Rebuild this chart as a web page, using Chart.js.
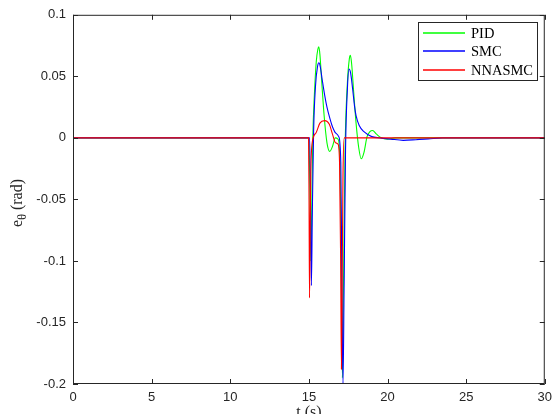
<!DOCTYPE html>
<html>
<head>
<meta charset="utf-8">
<script src="https://cdn.jsdelivr.net/npm/chart.js@4.4.1/dist/chart.umd.min.js"></script>
<style>
  html, body { margin: 0; padding: 0; background: #fff; }
  #wrap { width: 558px; height: 414px; position: relative; }
</style>
</head>
<body>
<div id="wrap"><canvas id="c"></canvas></div>
<script>
// time (s) and error e_theta (rad)
const pidT = [0, 15.0, 15.06, 15.12, 15.18, 15.25, 15.35, 15.47, 15.57, 15.63, 15.7, 15.82, 15.97, 16.15, 16.33, 16.5, 16.68, 16.85, 16.98, 17.06, 17.13, 17.2, 17.3, 17.45, 17.57, 17.64, 17.72, 17.85, 18.0, 18.17, 18.33, 18.5, 18.7, 18.88, 19.05, 19.3, 19.6, 20.0, 20.5, 21.0, 30];
const pidE = [0, 0, -0.04, -0.1, -0.06, 0.0, 0.035, 0.062, 0.072, 0.074, 0.068, 0.045, 0.018, -0.004, -0.011, -0.007, 0.0, -0.001, -0.02, -0.1, -0.195, -0.12, -0.01, 0.045, 0.064, 0.067, 0.06, 0.037, 0.012, -0.008, -0.017, -0.012, 0.001, 0.005, 0.006, 0.003, 0.0, -0.001, 0.0, 0.0, 0];

const smcT = [0, 15.05, 15.11, 15.16, 15.22, 15.3, 15.42, 15.55, 15.64, 15.72, 15.85, 16.0, 16.15, 16.33, 16.5, 16.7, 16.9, 17.03, 17.1, 17.17, 17.24, 17.33, 17.45, 17.55, 17.65, 17.78, 17.9, 18.0, 18.2, 18.5, 19.0, 19.5, 20.2, 21.0, 21.8, 22.6, 23.5, 30];
const smcE = [0, 0, -0.06, -0.12, -0.06, 0.005, 0.042, 0.058, 0.061, 0.058, 0.047, 0.035, 0.025, 0.016, 0.009, 0.004, 0.001, -0.02, -0.12, -0.2, -0.12, -0.01, 0.04, 0.056, 0.053, 0.04, 0.026, 0.018, 0.01, 0.005, 0.001, 0.0, -0.001, -0.002, -0.0015, -0.0008, 0, 0];

const nnT = [0, 14.98, 15.01, 15.04, 15.07, 15.12, 15.2, 15.45, 15.7, 16.0, 16.3, 16.5, 16.7, 16.85, 16.95, 17.02, 17.07, 17.12, 17.17, 17.25, 17.4, 30];
const nnE = [0, 0, -0.05, -0.13, -0.09, -0.03, -0.005, 0.004, 0.012, 0.014, 0.011, 0.003, -0.004, -0.005, -0.02, -0.1, -0.188, -0.11, -0.03, 0, 0, 0];

const seriesNames = ['PID', 'SMC', 'NNASMC'];
const seriesColors = ['#00ff00', '#0000ff', '#ff0000'];
const xTicks = [0, 5, 10, 15, 20, 25, 30];
const yTicks = [0.1, 0.05, 0, -0.05, -0.1, -0.15, -0.2];

const toPoints = (t, e) => t.map((v, i) => ({ x: v, y: e[i] }));

const axisColor = '#262626';

// matlab style box, inward ticks, legend and axis titles
const framePlugin = {
    id: 'frame',
    afterDraw(chart) {
        const { ctx, chartArea: a, scales } = chart;
        const x = scales.x, y = scales.y;
        ctx.save();
        ctx.strokeStyle = axisColor;
        ctx.lineWidth = 1;
        ctx.strokeRect(a.left + 0.5, a.top + 0.5, a.right - a.left - 1, a.bottom - a.top - 1);
        ctx.beginPath();
        xTicks.forEach(v => {
            const px = Math.round(x.getPixelForValue(v)) + 0.5;
            ctx.moveTo(px, a.bottom); ctx.lineTo(px, a.bottom - 5);
            ctx.moveTo(px, a.top); ctx.lineTo(px, a.top + 5);
        });
        yTicks.forEach(v => {
            const py = Math.round(y.getPixelForValue(v)) + 0.5;
            ctx.moveTo(a.left, py); ctx.lineTo(a.left + 5, py);
            ctx.moveTo(a.right, py); ctx.lineTo(a.right - 5, py);
        });
        ctx.stroke();

        // legend box
        const lx = 418, ly = 22, lw = 119, lh = 58;
        ctx.fillStyle = '#fff';
        ctx.fillRect(lx, ly, lw, lh);
        ctx.strokeStyle = axisColor;
        ctx.strokeRect(lx + 0.5, ly + 0.5, lw, lh);
        ctx.font = '14.5px "Liberation Serif", "Times New Roman", serif';
        ctx.textBaseline = 'middle';
        ctx.textAlign = 'left';
        ctx.lineWidth = 1.6;
        seriesNames.forEach((name, i) => {
            const yy = Math.round(33 + i * 18.3);
            ctx.strokeStyle = seriesColors[i];
            ctx.beginPath();
            ctx.moveTo(423, yy); ctx.lineTo(465, yy);
            ctx.stroke();
            ctx.fillStyle = '#000';
            ctx.fillText(name, 471, yy + 1);
        });

        // y axis title: e_theta (rad)
        ctx.fillStyle = axisColor;
        ctx.save();
        ctx.translate(22, 203);
        ctx.rotate(-Math.PI / 2);
        const big = '16px "Liberation Serif", "Times New Roman", serif';
        const small = '12px "Liberation Serif", "Times New Roman", serif';
        ctx.font = big;
        const wE = ctx.measureText('e').width;
        const wR = ctx.measureText(' (rad)').width;
        ctx.font = small;
        const wT = ctx.measureText('\u03b8').width;
        let sx = -(wE + wT + wR) / 2;
        ctx.textBaseline = 'alphabetic';
        ctx.font = big;
        ctx.fillText('e', sx, 0);
        ctx.font = small;
        ctx.fillText('\u03b8', sx + wE, 4);
        ctx.font = big;
        ctx.fillText(' (rad)', sx + wE + wT, 0);
        ctx.restore();

        // x axis title
        ctx.font = '16px "Liberation Serif", "Times New Roman", serif';
        ctx.textAlign = 'center';
        ctx.textBaseline = 'top';
        ctx.fillText('t (s)', (a.left + a.right) / 2, 405);
        ctx.restore();
    }
};

new Chart(document.getElementById('c'), {
    type: 'line',
    data: {
        datasets: [
            { label: seriesNames[0], data: toPoints(pidT, pidE), borderColor: seriesColors[0], order: 2 },
            { label: seriesNames[1], data: toPoints(smcT, smcE), borderColor: seriesColors[1], order: 1 },
            { label: seriesNames[2], data: toPoints(nnT, nnE), borderColor: seriesColors[2], order: 0 }
        ]
    },
    options: {
        responsive: true,
        maintainAspectRatio: false,
        animation: false,
        parsing: false,
        layout: { padding: { top: 7, right: 7, left: 0, bottom: 0 } },
        elements: {
            point: { radius: 0 },
            line: { borderWidth: 1.1, cubicInterpolationMode: 'monotone', fill: false }
        },
        scales: {
            x: {
                type: 'linear',
                min: 0,
                max: 30,
                afterFit: s => { s.height = 30; },
                afterBuildTicks: s => { s.ticks = xTicks.map(v => ({ value: v })); },
                grid: { display: false, drawTicks: false },
                border: { display: false },
                ticks: {
                    padding: 6,
                    color: axisColor,
                    font: { family: '"Liberation Sans", Arial, sans-serif', size: 13 },
                    maxRotation: 0,
                    callback: v => String(v)
                }
            },
            y: {
                type: 'linear',
                min: -0.2,
                max: 0.1,
                afterFit: s => { s.width = 73; },
                afterBuildTicks: s => { s.ticks = yTicks.map(v => ({ value: v })); },
                grid: { display: false, drawTicks: false },
                border: { display: false },
                ticks: {
                    padding: 7,
                    color: axisColor,
                    font: { family: '"Liberation Sans", Arial, sans-serif', size: 13 },
                    callback: v => String(+v.toFixed(2))
                }
            }
        },
        plugins: {
            legend: { display: false },
            tooltip: { enabled: false }
        }
    },
    plugins: [framePlugin]
});
</script>
</body>
</html>
